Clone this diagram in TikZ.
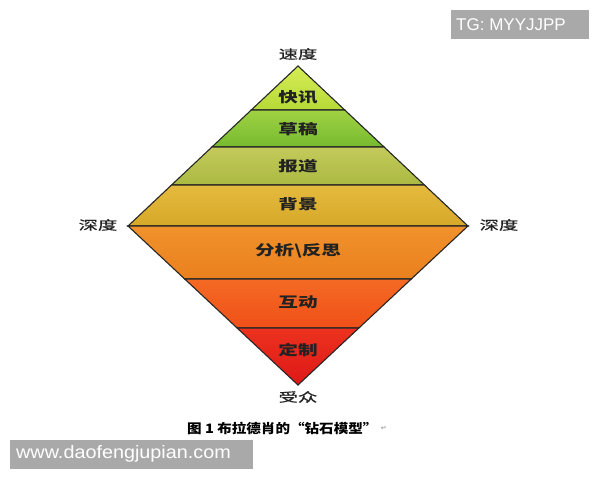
\documentclass[tikz,border=0pt]{standalone}
\usepackage{fontspec}
\usepackage{graphicx}
\setmainfont{Liberation Sans}
\newfontfamily\cjk{Noto Sans CJK SC}
\newfontfamily\cjkm[FakeBold=0.6]{Noto Sans CJK SC}
\newfontfamily\djv{DejaVu Sans}
\definecolor{wmgray}{HTML}{A9A9A9}
\definecolor{txt}{HTML}{222222}
\tikzset{
  band/.style={draw=black!85, line width=1.1pt, line join=miter},
  bandlabel/.style={text=txt, font=\cjk\bfseries\fontsize{14}{14}\selectfont, inner sep=0pt},
  outerlabel/.style={text=txt, font=\cjkm\fontsize{12.5}{12.5}\selectfont, inner sep=0pt},
  wmbox/.style={fill=wmgray, draw=none},
}
\newcommand{\wide}[2]{\scalebox{#1}[1]{#2}}
\begin{document}
\begin{tikzpicture}[x=1pt,y=-1pt]
\useasboundingbox[fill=white] (0,0) rectangle (600,480);
% bands
\shade[band, top color={rgb,255:red,214;green,236;blue,84}, bottom color={rgb,255:red,182;green,218;blue,56}]
  (298,66) -- (344.75,110) -- (251.25,110) -- cycle;
\shade[band, top color={rgb,255:red,160;green,210;blue,66}, bottom color={rgb,255:red,118;green,186;blue,48}]
  (251.25,110) -- (344.75,110) -- (384.06,147) -- (211.94,147) -- cycle;
\shade[band, top color={rgb,255:red,196;green,202;blue,92}, bottom color={rgb,255:red,170;green,186;blue,64}]
  (211.94,147) -- (384.06,147) -- (424.44,185) -- (171.56,185) -- cycle;
\shade[band, top color={rgb,255:red,228;green,186;blue,62}, bottom color={rgb,255:red,214;green,168;blue,40}]
  (171.56,185) -- (424.44,185) -- (468,226) -- (128,226) -- cycle;
\shade[band, top color={rgb,255:red,240;green,146;blue,44}, bottom color={rgb,255:red,234;green,128;blue,30}]
  (128,226) -- (468,226) -- (411.3,279) -- (184.7,279) -- cycle;
\shade[band, top color={rgb,255:red,244;green,106;blue,36}, bottom color={rgb,255:red,240;green,80;blue,24}]
  (184.7,279) -- (411.3,279) -- (358.9,328) -- (237.1,328) -- cycle;
\shade[band, top color={rgb,255:red,236;green,50;blue,30}, bottom color={rgb,255:red,222;green,24;blue,24}]
  (237.1,328) -- (358.9,328) -- (298,385) -- cycle;
% band labels
\node[bandlabel] (kx) at (298,97) {\wide{1.4}{快讯}};
\node[bandlabel] (cg) at (298,129) {\wide{1.4}{草稿}};
\node[bandlabel] (bd) at (298,166) {\wide{1.4}{报道}};
\node[bandlabel] (bj) at (298,204) {\wide{1.4}{背景}};
\node[bandlabel] (fx) at (298,251) {\wide{1.4}{分析\textbackslash 反思}};
\node[bandlabel] (hd) at (298,302) {\wide{1.4}{互动}};
\node[bandlabel] (dz) at (298,350) {\wide{1.4}{定制}};
% outer labels
\node[outerlabel] (sd) at (298,54) {\wide{1.55}{速度}};
\node[outerlabel] (sdl) at (98,225) {\wide{1.55}{深度}};
\node[outerlabel] (sdr) at (499,225) {\wide{1.55}{深度}};
\node[outerlabel] (sz) at (298,397) {\wide{1.55}{受众}};
% caption
\node[inner sep=0pt, text=black, font=\cjk\bfseries\fontsize{13}{13}\selectfont, anchor=west] (cap) at (187,428) {\wide{1.12}{图 1 布拉德肖的“钻石模型”}};
\node[inner sep=0pt, text=black!45, font=\djv\fontsize{7}{7}\selectfont, anchor=west] (ret) at ([xshift=3pt]cap.east) {↵};
% watermark boxes
\fill[wmbox] (451,10) rectangle (589,39);
\node[inner sep=0pt, text=white, font=\fontsize{17}{17}\selectfont, anchor=west] (tg) at (456,25) {TG: MYYJJPP};
\fill[wmbox] (10,440) rectangle (253,469);
\node[inner sep=0pt, text=white, font=\fontsize{18}{18}\selectfont, anchor=west] (www) at (16,454) {\wide{1.1}{www.daofengjupian.com}};
\end{tikzpicture}
\end{document}
